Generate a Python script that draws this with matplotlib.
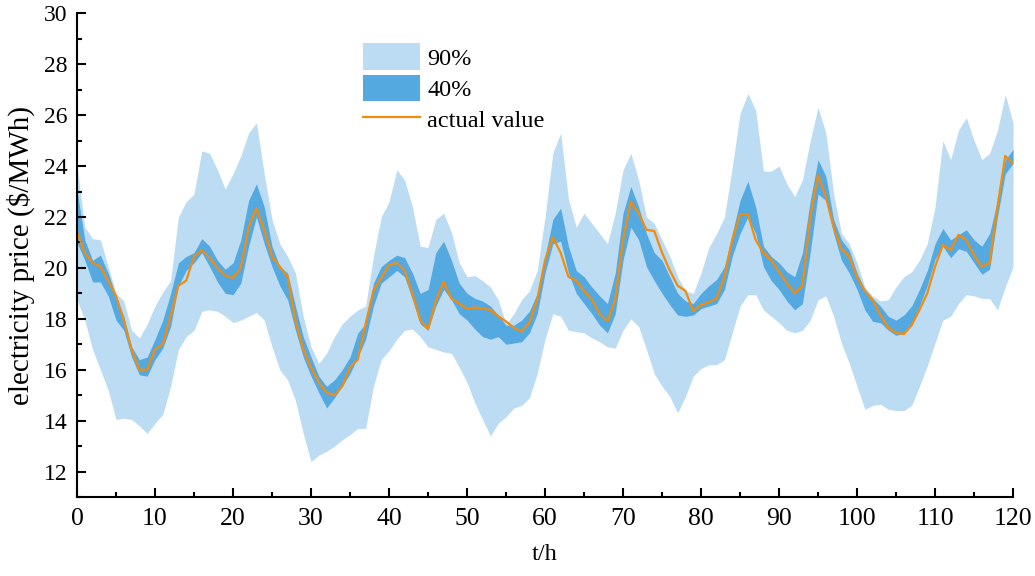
import numpy as np
import matplotlib
matplotlib.use("Agg")
import matplotlib.pyplot as plt
from matplotlib.ticker import MultipleLocator

plt.rcParams['font.family'] = ['Liberation Serif', 'DejaVu Serif']

# hourly values, t = 0..120
hours = np.arange(0, 121)

actual = [21.4, 20.6, 20.2, 20.05, 19.5, 18.9, 17.95, 16.8, 16.0, 16.0,
          16.8, 17.0, 18.1, 19.3, 19.5, 20.45, 20.7, 20.4, 20.0, 19.7,
          19.6, 20.0, 21.6, 22.35, 21.5, 20.45, 20.05, 19.65, 17.95, 16.8,
          16.1, 15.5, 15.1, 15.0, 15.35, 16.1, 16.4, 17.8, 19.1, 19.6,
          20.1, 20.2, 19.9, 19.0, 17.95, 17.6, 18.7, 19.45, 18.8, 18.6,
          18.4, 18.45, 18.4, 18.35, 18.1, 17.9, 17.65, 17.5, 17.85, 18.75,
          20.3, 21.2, 20.6, 19.65, 19.5, 19.1, 18.75, 18.2, 17.9, 18.75,
          21.1, 22.6, 22.15, 21.5, 21.45, 20.6, 19.9, 19.3, 19.1, 18.3,
          18.55, 18.65, 18.8, 19.65, 21.1, 22.1, 22.1, 21.1, 20.6, 20.3,
          19.85, 19.4, 19.0, 19.3, 22.0, 23.65, 22.8, 21.6, 20.75, 20.45,
          19.65, 19.1, 18.75, 18.15, 17.65, 17.45, 17.4, 17.75, 18.35, 19.0,
          20.05, 20.9, 20.7, 21.3, 21.1, 20.5, 20.05, 20.2, 22.4, 24.4,
          24.1]

upper_90 = [24.0, 21.6, 21.15, 21.1, 20.05, 19.0, 18.7, 17.55, 17.25, 17.8,
            18.5, 19.05, 19.5, 22.0, 22.6, 22.9, 24.6, 24.5, 23.85, 23.1,
            23.7, 24.4, 25.3, 25.7, 23.7, 21.9, 20.95, 20.45, 19.8, 18.1,
            16.9, 16.25, 16.65, 17.3, 17.8, 18.1, 18.35, 18.5, 20.45, 22.0,
            22.6, 23.85, 23.45, 22.4, 20.85, 20.8, 21.9, 22.15, 21.4, 20.2,
            19.65, 19.7, 19.5, 19.25, 18.75, 17.8, 18.2, 18.75, 19.1, 19.9,
            22.0, 24.5, 25.3, 22.7, 21.6, 22.15, 21.75, 21.35, 20.95, 22.15,
            23.85, 24.5, 23.45, 22.0, 21.75, 21.1, 20.45, 19.65, 19.1, 19.0,
            19.8, 20.8, 21.35, 22.0, 23.95, 26.05, 26.85, 26.2, 23.8, 23.8,
            24.0, 23.3, 22.8, 23.45, 25.0, 26.3, 25.3, 22.9, 21.35, 20.95,
            20.2, 19.25, 18.9, 18.7, 18.75, 19.25, 19.65, 19.85, 20.3, 20.95,
            22.4, 25.0, 24.25, 25.4, 25.9, 25.0, 24.25, 24.5, 25.4, 26.8,
            25.7]

lower_90 = [18.75, 17.95, 16.8, 16.0, 15.2, 14.05, 14.1, 14.05, 13.8, 13.5,
            13.9, 14.25, 15.35, 16.8, 17.3, 17.55, 18.3, 18.35, 18.3, 18.1,
            17.85, 17.95, 18.1, 18.25, 17.95, 16.9, 16.0, 15.6, 14.8, 13.5,
            12.4, 12.65, 12.8, 13.0, 13.25, 13.45, 13.7, 13.7, 15.35, 16.4,
            16.75, 17.2, 17.55, 17.6, 17.3, 16.9, 16.8, 16.7, 16.65, 16.1,
            15.5, 14.7, 14.05, 13.4, 13.9, 14.15, 14.5, 14.6, 14.9, 15.85,
            17.2, 18.2, 18.1, 17.55, 17.5, 17.45, 17.25, 17.1, 16.9, 16.85,
            17.55, 18.0, 17.7, 16.8, 15.85, 15.35, 14.95, 14.3, 14.95, 15.75,
            16.05, 16.2, 16.2, 16.4, 17.45, 18.5, 18.95, 18.95, 18.35, 18.1,
            17.85, 17.55, 17.45, 17.55, 17.95, 18.75, 18.9, 18.1, 17.05, 16.25,
            15.35, 14.45, 14.6, 14.65, 14.45, 14.4, 14.4, 14.6, 15.35, 16.15,
            17.05, 17.95, 18.1, 18.6, 18.95, 18.9, 18.8, 18.8, 18.35, 19.25,
            20.05]

upper_40 = [23.05, 21.1, 20.3, 20.5, 19.8, 18.9, 18.1, 16.9, 16.4, 16.5,
            17.2, 17.95, 19.0, 20.2, 20.45, 20.6, 21.15, 20.85, 20.3, 19.95,
            20.2, 21.1, 22.65, 23.3, 22.4, 20.85, 20.05, 19.8, 18.5, 17.3,
            16.5, 15.75, 15.35, 15.6, 16.0, 16.5, 17.45, 17.8, 19.4, 20.05,
            20.3, 20.5, 20.4, 19.8, 19.0, 19.15, 20.6, 21.05, 20.3, 19.4,
            19.0, 18.8, 18.7, 18.5, 18.15, 17.75, 17.75, 17.95, 18.3, 19.0,
            20.45, 21.9, 22.35, 20.85, 19.9, 19.65, 19.25, 18.9, 18.6, 19.8,
            22.15, 23.2, 22.4, 21.35, 20.6, 20.3, 19.65, 19.0, 18.7, 18.6,
            19.0, 19.3, 19.55, 20.05, 21.35, 22.65, 23.4, 22.4, 20.85, 20.45,
            20.2, 19.85, 19.65, 20.6, 22.65, 24.25, 23.6, 21.9, 21.1, 20.7,
            19.8, 19.15, 18.8, 18.5, 18.1, 17.95, 18.15, 18.5, 19.15, 19.9,
            20.95, 21.55, 21.1, 21.3, 21.5, 21.1, 20.85, 21.35, 22.65, 24.25,
            24.65]

lower_40 = [21.0, 20.3, 19.45, 19.45, 18.9, 17.95, 17.55, 16.5, 15.8, 15.75,
            16.4, 16.85, 17.7, 19.3, 19.9, 20.2, 20.6, 20.05, 19.45, 19.0,
            18.95, 19.4, 20.85, 22.0, 20.95, 20.05, 19.3, 18.75, 17.55, 16.5,
            15.75, 15.1, 14.5, 14.9, 15.35, 15.85, 16.5, 17.2, 18.5, 19.4,
            19.65, 19.9, 19.65, 18.75, 17.8, 17.55, 18.5, 19.15, 18.75, 18.2,
            17.95, 17.6, 17.3, 17.2, 17.3, 17.0, 17.05, 17.1, 17.45, 18.2,
            19.8, 20.95, 21.05, 19.8, 19.0, 18.6, 18.2, 17.75, 17.45, 18.2,
            20.3, 21.6, 21.1, 20.05, 19.5, 19.0, 18.55, 18.15, 18.1, 18.15,
            18.4, 18.5, 18.6, 19.15, 20.45, 21.35, 22.0, 21.35, 20.05, 19.5,
            19.15, 18.7, 18.35, 18.6, 20.6, 22.9, 22.65, 21.35, 20.3, 19.8,
            19.15, 18.35, 17.9, 17.85, 17.55, 17.35, 17.45, 17.75, 18.5, 19.3,
            20.35, 20.85, 20.4, 20.75, 20.65, 20.2, 19.75, 19.95, 22.0, 23.7,
            24.1]

light_blue = '#BBDCF2'
dark_blue = '#55A9E1'
orange = '#F28C0A'

fig = plt.figure(figsize=(10.35, 5.76), dpi=100)
ax = fig.add_axes([0.0744, 0.137, 0.9044, 0.840])

ax.fill_between(hours, lower_90, upper_90, color=light_blue, lw=0, label='90%')
ax.fill_between(hours, lower_40, upper_40, color=dark_blue, lw=0, label='40%')
ax.plot(hours, actual, color=orange, lw=1.6, solid_joinstyle='round',
        label='actual value')

ax.set_xlim(0, 120)
ax.set_ylim(11, 30)
ax.xaxis.set_major_locator(MultipleLocator(10))
ax.xaxis.set_minor_locator(MultipleLocator(5))
ax.set_yticks(np.arange(12, 31, 2))
ax.yaxis.set_minor_locator(MultipleLocator(1))

for side in ['top', 'right']:
    ax.spines[side].set_visible(False)
for side in ['left', 'bottom']:
    ax.spines[side].set_linewidth(1.5)

ax.tick_params(which='both', direction='in', width=1.5)
ax.tick_params(which='major', length=6.5)
ax.tick_params(which='minor', length=3.6)
ax.tick_params(axis='y', labelsize=17, pad=7)
ax.tick_params(axis='x', labelsize=18.5, pad=8)

ax.set_xlabel('t/h', fontsize=17.5, labelpad=10)
ax.set_ylabel(r'electricity price (\$/MWh)', fontsize=21, labelpad=6)

ax.legend(loc='upper left', bbox_to_anchor=(0.3056, 0.938), frameon=False,
          fontsize=17.5, handlelength=2.35, handleheight=1.3, labelspacing=0.2,
          handletextpad=0.3, borderpad=0, borderaxespad=0)

fig.savefig('out.png', dpi=100)
